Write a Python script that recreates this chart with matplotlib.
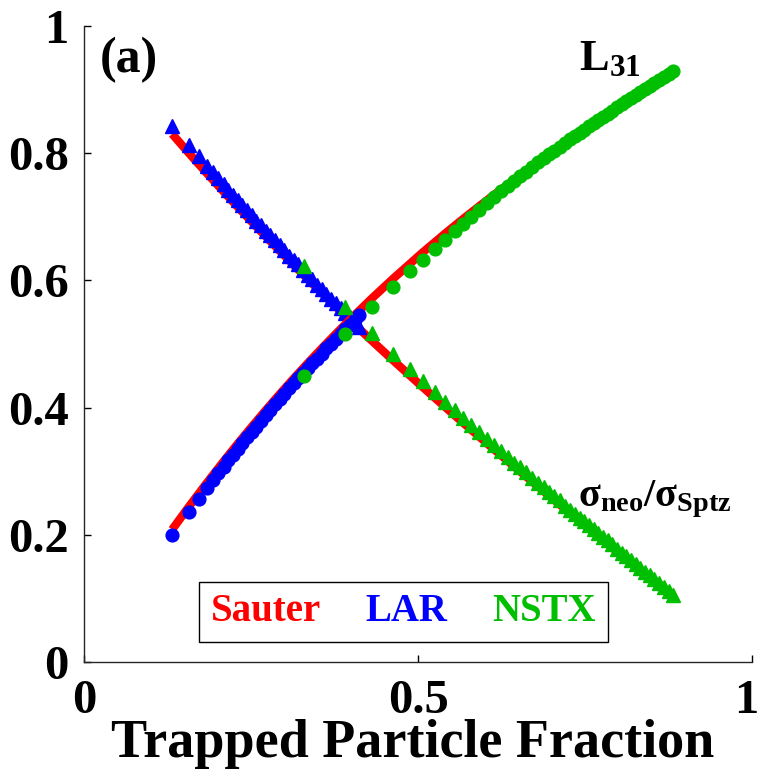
import matplotlib
matplotlib.use("Agg")
import matplotlib.pyplot as plt
import matplotlib.transforms as mtransforms

plt.rcParams['font.family'] = ['Liberation Serif', 'DejaVu Serif']
plt.rcParams['font.weight'] = 'bold'
plt.rcParams['mathtext.fontset'] = 'custom'
plt.rcParams['mathtext.rm'] = 'Liberation Serif:bold'
plt.rcParams['mathtext.bf'] = 'Liberation Serif:bold'
plt.rcParams['mathtext.it'] = 'Liberation Serif:bold'

# Sauter model (red line)
sauter_x = [0.132, 0.157, 0.184, 0.209, 0.230, 0.251, 0.272, 0.293, 0.314, 0.335,
            0.356, 0.377, 0.398, 0.431, 0.463, 0.507, 0.541, 0.568, 0.592, 0.614,
            0.634, 0.653, 0.671, 0.688, 0.704, 0.720, 0.735, 0.749, 0.763, 0.777,
            0.791, 0.805, 0.819, 0.833, 0.847, 0.861, 0.875, 0.882]
sauter_sigma = [0.8302, 0.8001, 0.7683, 0.7394, 0.7156, 0.6922, 0.6691, 0.6464, 0.6240, 0.6020,
                0.5802, 0.5588, 0.5377, 0.5050, 0.4740, 0.4322, 0.4005, 0.3757, 0.3539, 0.3341,
                0.3163, 0.2995, 0.2836, 0.2687, 0.2547, 0.2408, 0.2278, 0.2157, 0.2036, 0.1916,
                0.1796, 0.1676, 0.1556, 0.1436, 0.1316, 0.1196, 0.1076, 0.1016]
sauter_l31 = [0.2082, 0.2441, 0.2817, 0.3154, 0.3429, 0.3696, 0.3957, 0.4211, 0.4458, 0.4698,
              0.4932, 0.5159, 0.5381, 0.5717, 0.6029, 0.6439, 0.6740, 0.6970, 0.7169, 0.7346,
              0.7503, 0.7650, 0.7786, 0.7912, 0.8029, 0.8144, 0.8250, 0.8349, 0.8446, 0.8542,
              0.8637, 0.8731, 0.8825, 0.8918, 0.9010, 0.9101, 0.9193, 0.9238]

# LAR (blue)
lar_x = [0.132, 0.157, 0.172, 0.184, 0.193, 0.201, 0.209, 0.216, 0.223, 0.230,
         0.237, 0.244, 0.251, 0.258, 0.265, 0.272, 0.279, 0.286, 0.293, 0.300,
         0.307, 0.314, 0.321, 0.328, 0.335, 0.342, 0.349, 0.356, 0.363, 0.370,
         0.377, 0.384, 0.391, 0.398, 0.405, 0.412]
lar_sigma = [0.843, 0.813, 0.795, 0.780, 0.770, 0.761, 0.751, 0.742, 0.735, 0.727,
             0.719, 0.710, 0.702, 0.694, 0.687, 0.678, 0.671, 0.663, 0.655, 0.647,
             0.639, 0.632, 0.625, 0.616, 0.609, 0.602, 0.593, 0.586, 0.579, 0.571,
             0.564, 0.557, 0.549, 0.542, 0.535, 0.527]
lar_l31 = [0.200, 0.236, 0.257, 0.274, 0.286, 0.297, 0.307, 0.317, 0.326, 0.335,
           0.344, 0.353, 0.362, 0.370, 0.379, 0.388, 0.396, 0.405, 0.413, 0.421,
           0.430, 0.438, 0.446, 0.454, 0.462, 0.470, 0.477, 0.485, 0.493, 0.500,
           0.508, 0.515, 0.523, 0.530, 0.537, 0.545]

# NSTX (green)
nstx_x = [0.330, 0.390, 0.431, 0.463, 0.488, 0.507, 0.525, 0.541, 0.555, 0.568,
          0.580, 0.592, 0.603, 0.614, 0.624, 0.634, 0.644, 0.653, 0.662, 0.671,
          0.680, 0.688, 0.696, 0.704, 0.712, 0.720, 0.728, 0.735, 0.742, 0.749,
          0.756, 0.763, 0.770, 0.777, 0.784, 0.791, 0.798, 0.805, 0.812, 0.819,
          0.826, 0.833, 0.840, 0.847, 0.854, 0.861, 0.868, 0.875, 0.882]
nstx_sigma = [0.622, 0.558, 0.517, 0.485, 0.461, 0.441, 0.424, 0.409, 0.396, 0.384,
              0.372, 0.361, 0.351, 0.341, 0.332, 0.323, 0.313, 0.306, 0.298, 0.290,
              0.282, 0.275, 0.268, 0.261, 0.254, 0.246, 0.239, 0.233, 0.227, 0.221,
              0.215, 0.209, 0.203, 0.197, 0.191, 0.185, 0.178, 0.172, 0.166, 0.160,
              0.154, 0.148, 0.142, 0.136, 0.130, 0.124, 0.118, 0.112, 0.106]
nstx_l31 = [0.450, 0.516, 0.558, 0.590, 0.614, 0.632, 0.649, 0.664, 0.677, 0.689,
            0.700, 0.711, 0.721, 0.731, 0.740, 0.748, 0.756, 0.764, 0.771, 0.779,
            0.786, 0.792, 0.798, 0.804, 0.810, 0.816, 0.822, 0.827, 0.832, 0.837,
            0.842, 0.847, 0.852, 0.857, 0.862, 0.867, 0.872, 0.877, 0.882, 0.887,
            0.892, 0.896, 0.901, 0.906, 0.911, 0.915, 0.920, 0.924, 0.929]

xticks = [0, 0.5, 1]
xticklabels = ['0', '0.5', '1']
yticks = [0, 0.2, 0.4, 0.6, 0.8, 1]
yticklabels = ['0', '0.2', '0.4', '0.6', '0.8', '1']

RED = '#ff0000'
BLUE = '#0000ff'
GREEN = '#00bf00'

fig = plt.figure(figsize=(7.6, 7.82), dpi=100)
ax = fig.add_axes([0.1105, 0.1535, 0.879, 0.8133])

l_red, = ax.plot(sauter_x, sauter_sigma, color=RED, lw=6, solid_capstyle='butt', zorder=2)
l_blue, = ax.plot(lar_x, lar_sigma, ls='none', marker='^', ms=10.5, color=BLUE, zorder=3)
ax.plot(sauter_x, sauter_l31, color=RED, lw=6, solid_capstyle='butt', zorder=4)
ax.plot(lar_x, lar_l31, ls='none', marker='o', ms=9.2, color=BLUE, zorder=5)
l_green, = ax.plot(nstx_x, nstx_sigma, ls='none', marker='^', ms=10.5, color=GREEN, zorder=6)
ax.plot(nstx_x, nstx_l31, ls='none', marker='o', ms=9.2, color=GREEN, zorder=7)

ax.set_xlim(0, 1)
ax.set_ylim(0, 1)
ax.set_xticks(xticks)
ax.set_xticklabels(xticklabels)
ax.set_yticks(yticks)
ax.set_yticklabels(yticklabels)
ax.tick_params(direction='in', length=5, width=1, labelsize=35)
ax.tick_params(axis='x', pad=12)
ax.tick_params(axis='y', pad=11)
for s in ['top', 'right']:
    ax.spines[s].set_visible(False)
for s in ['left', 'bottom']:
    ax.spines[s].set_linewidth(1)
    ax.spines[s].set_color('#262626')
ax.set_xlabel('Trapped Particle Fraction', fontsize=39, fontweight='bold')
ax.xaxis.set_label_coords(0.492, -0.090)

# keep the last x tick label inside the figure
last = ax.get_xticklabels()[-1]
last.set_transform(last.get_transform() +
                   mtransforms.ScaledTranslation(-6 / 100, 0, fig.dpi_scale_trans))

ax.text(0.024, 0.947, '(a)', fontsize=36, fontweight='bold', va='center', ha='left')
ax.text(0.741, 0.931, r'$\mathrm{L_{31}}$', fontsize=32, ha='left', va='baseline')
ax.text(0.739, 0.244, r'$\mathrm{σ_{neo}/σ_{Sptz}}$', fontsize=29, ha='left', va='baseline')

leg = ax.legend([l_red, l_blue, l_green], ['Sauter', 'LAR', 'NSTX'], ncol=3,
                loc='center', bbox_to_anchor=(0.478, 0.079), handlelength=0,
                handletextpad=0, columnspacing=1.15, fancybox=False,
                edgecolor='black', framealpha=1, borderpad=0.3,
                prop={'family': 'Liberation Serif', 'weight': 'bold', 'size': 28})
leg.get_frame().set_linewidth(1)
for h in leg.legend_handles:
    h.set_visible(False)
for t, c in zip(leg.get_texts(), [RED, BLUE, GREEN]):
    t.set_color(c)

fig.savefig('out.png', dpi=100)
